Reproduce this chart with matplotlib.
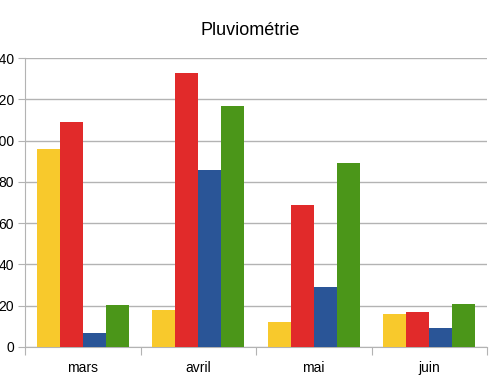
import numpy as np
import matplotlib.pyplot as plt

plt.rcParams['font.family'] = ['Liberation Sans', 'DejaVu Sans']

# data
months = ['mars', 'avril', 'mai', 'juin']
serie1 = [96, 18, 12, 16]     # jaune
serie2 = [109, 133, 69, 17]   # rouge
serie3 = [7, 86, 29, 9]       # bleu
serie4 = [20.5, 117, 89, 21]  # vert
yticks = [0, 20, 40, 60, 80, 100, 120, 140]

colors = ['#f8c92c', '#e12a2a', '#2a5597', '#4b9619']
series = [serie1, serie2, serie3, serie4]

fig = plt.figure(figsize=(5, 3.8), dpi=100)
ax = fig.add_axes([0.05, 0.087, 0.924, 0.76])

x = np.arange(len(months))
w = 0.2
for i, (vals, c) in enumerate(zip(series, colors)):
    ax.bar(x + (i - 1.5) * w, vals, width=w, color=c, zorder=3)

ax.set_xlim(-0.5, len(months) - 0.5)
ax.set_ylim(0, 140)
ax.set_yticks(yticks)
ax.set_yticklabels([str(v) for v in yticks])
ax.yaxis.grid(True, color='#b3b3b3', linewidth=1, zorder=0)

# category ticks between groups, labels centered
ax.set_xticks(np.arange(-0.5, len(months)), minor=False)
ax.set_xticklabels([''] * (len(months) + 1))
ax.set_xticks(x, minor=True)
ax.set_xticklabels(months, minor=True)
ax.tick_params(axis='x', which='minor', length=0, pad=10, labelsize=10)
ax.tick_params(axis='x', which='major', length=6, color='#b3b3b3')
ax.tick_params(axis='y', length=5, pad=3, color='#b3b3b3', labelsize=10)

for s in ['top', 'right']:
    ax.spines[s].set_visible(False)
for s in ['left', 'bottom']:
    ax.spines[s].set_color('#b3b3b3')

fig.text(0.5, 0.92, 'Pluviométrie', ha='center', va='center', fontsize=13)

fig.savefig('out.png', dpi=100)
